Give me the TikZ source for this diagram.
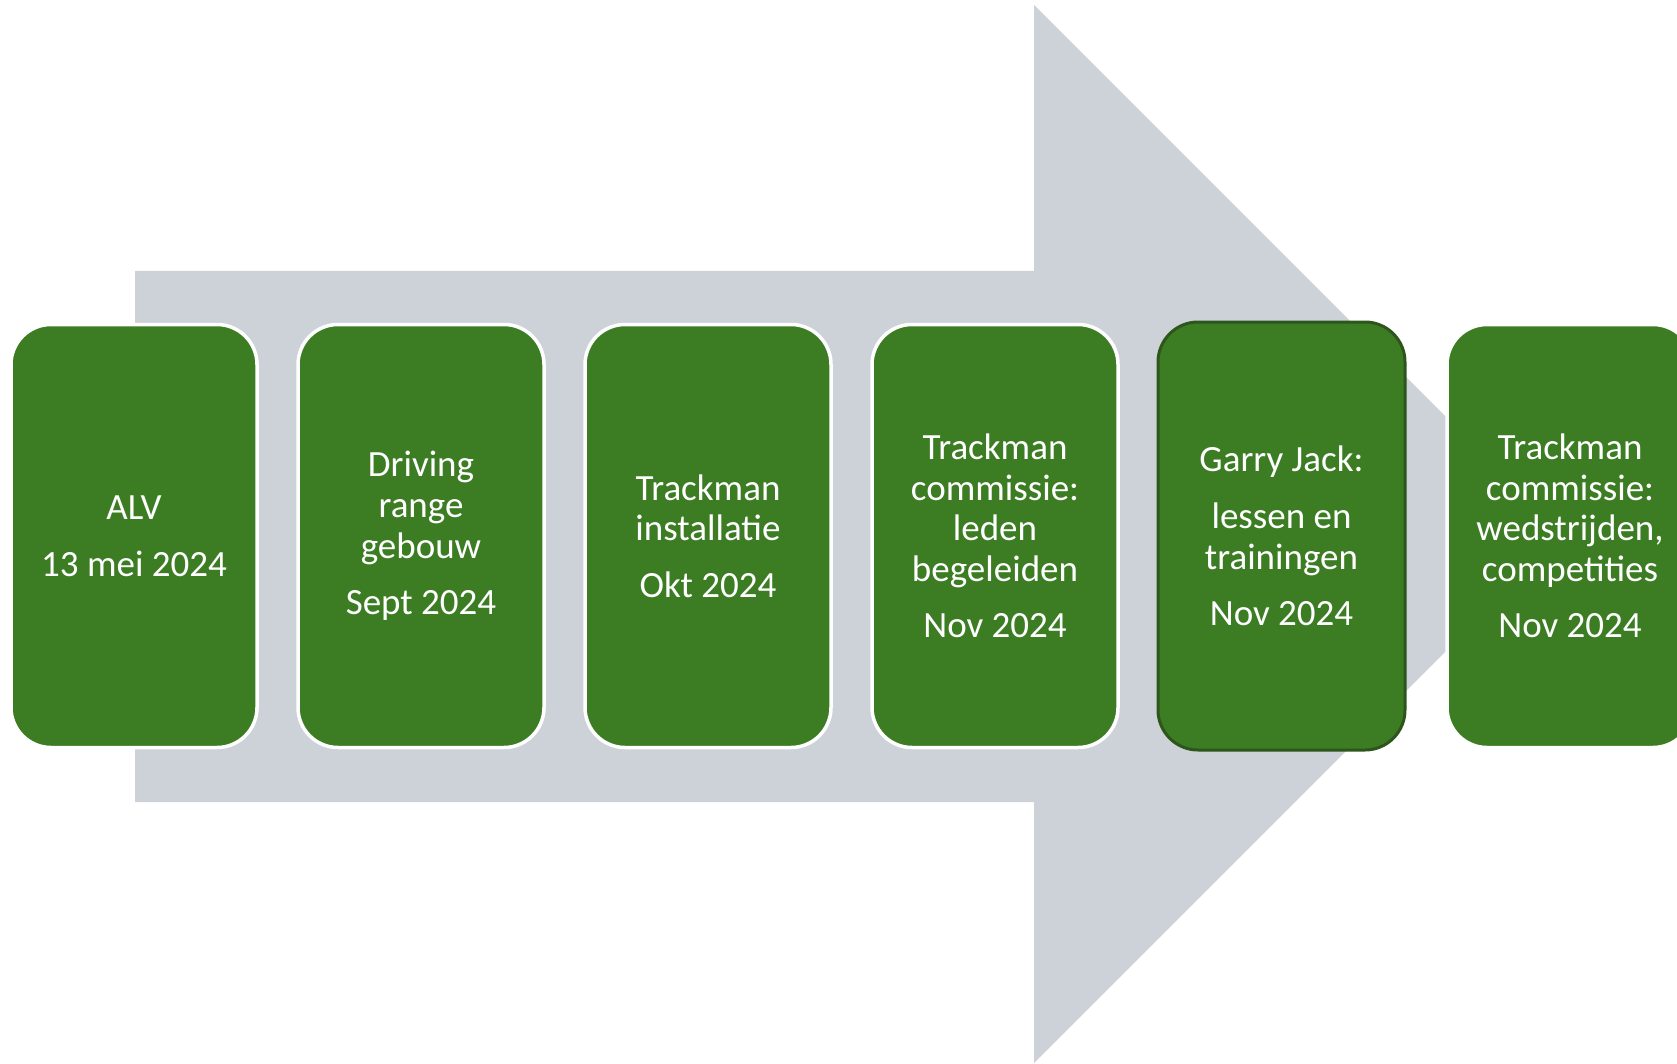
\documentclass[tikz,border=0pt]{standalone}
\usepackage{fontspec}
\setmainfont{Carlito}
\definecolor{arrowgray}{RGB}{205,210,217}
\definecolor{boxgreen}{RGB}{60,125,36}
\definecolor{darkgreen}{RGB}{44,86,28}
\tikzset{
  stagebox/.style={rectangle, rounded corners=40pt, fill=boxgreen, draw=white,
    line width=3.5pt, minimum width=246pt, minimum height=423pt,
    text=white, align=flush center, text width=240pt, inner sep=0pt,
    font=\fontsize{37}{40.6}\selectfont},
  hilitebox/.style={stagebox, draw=darkgreen, line width=3pt,
    minimum width=247pt, minimum height=428pt}
}
\newcommand{\pgap}{\\[16pt]}
\begin{document}
\begin{tikzpicture}[x=1pt,y=-1pt]
\useasboundingbox (0,0) rectangle (1677,1064);
\clip (0,0) rectangle (1677,1064);
% big background arrow
\fill[arrowgray] (135,271) -- (1034,271) -- (1034,5) -- (1563,534)
  -- (1034,1063) -- (1034,802) -- (135,802) -- cycle;
% stages
\node[stagebox]  (b1) at (134,536)    {ALV\pgap 13 mei 2024};
\node[stagebox]  (b2) at (421,536)    {Driving\\range\\gebouw\pgap Sept 2024};
\node[stagebox]  (b3) at (708,536)    {Trackman\\installatie\pgap Okt 2024};
\node[stagebox]  (b4) at (995,536)    {Trackman\\commissie:\\leden\\begeleiden\pgap Nov 2024};
\node[hilitebox] (b5) at (1281.5,536) {Garry Jack:\pgap lessen en\\trainingen\pgap Nov 2024};
\node[stagebox]  (b6) at (1570,536)   {Trackman\\commissie:\\wedstrijden,\\competities\pgap Nov 2024};
\end{tikzpicture}
\end{document}
